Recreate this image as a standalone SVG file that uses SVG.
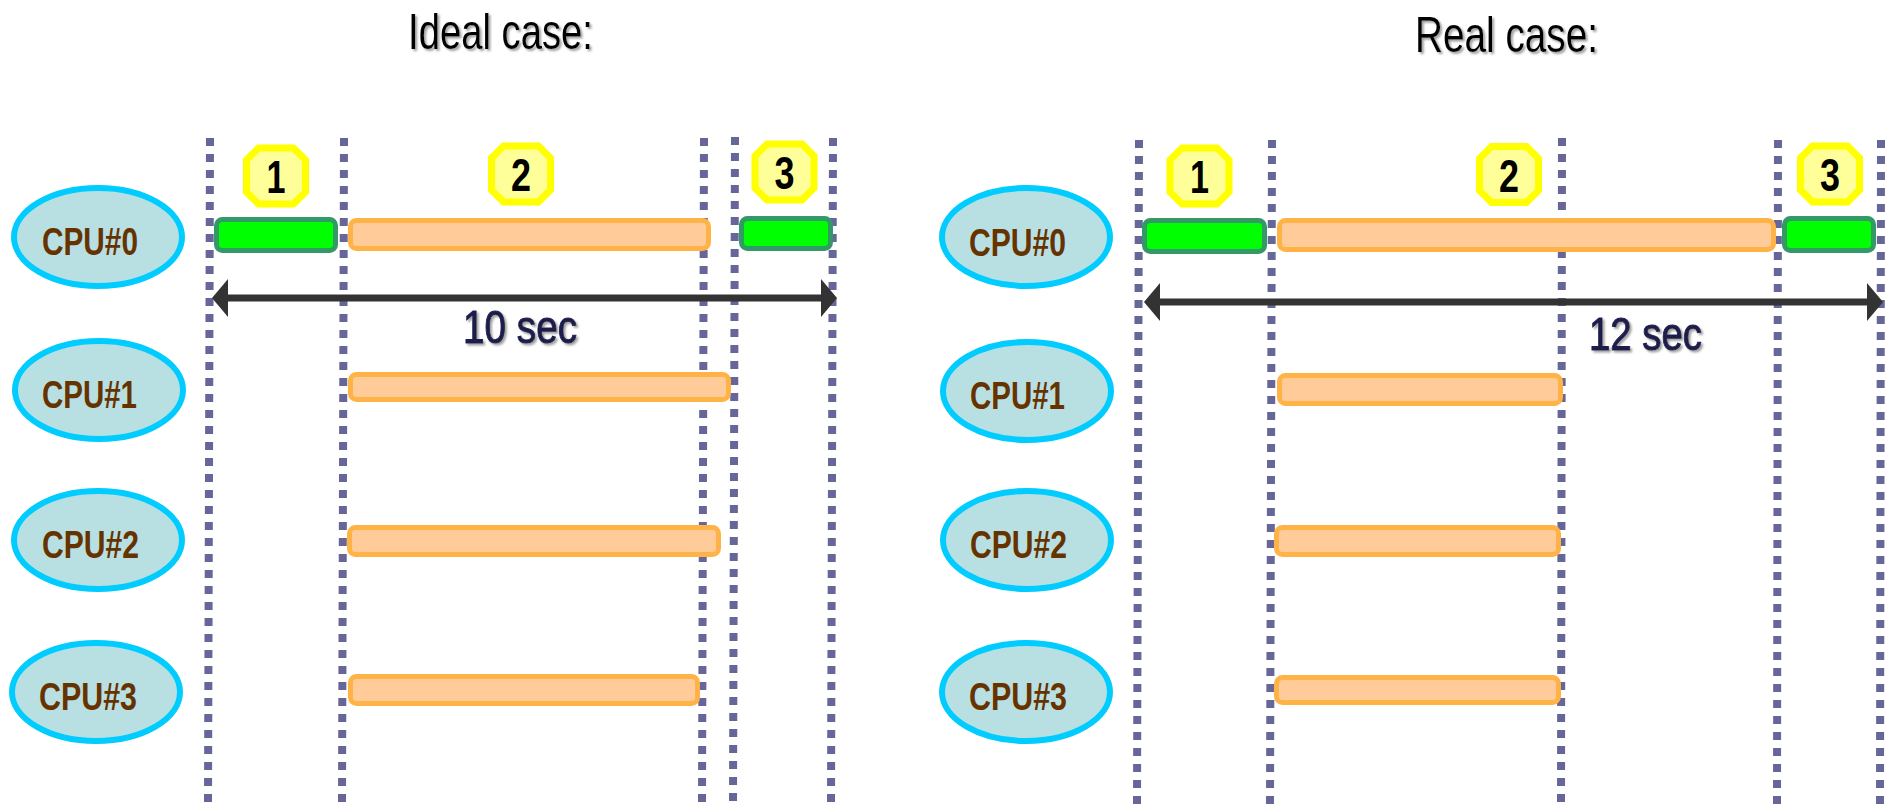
<svg xmlns="http://www.w3.org/2000/svg" width="1889" height="805" viewBox="0 0 1889 805">
<defs>
<style>
.title{font-family:"Liberation Sans",Arial,sans-serif;font-size:50px;fill:#000;filter:url(#sh)}
.dur{font-family:"Liberation Sans",Arial,sans-serif;font-size:46px;fill:#1f1f4d;stroke:#1f1f4d;stroke-width:1;filter:url(#sh)}
.cpu ellipse{fill:#b8e0e3;stroke:#00ccff;stroke-width:6}
.cpu text{font-family:"Liberation Sans",Arial,sans-serif;font-weight:bold;font-size:38px;fill:#663300}
.dot{stroke:#666699;stroke-width:8;stroke-dasharray:8 8;fill:none}
.g{fill:#00ff00;stroke:#339966;stroke-width:5}
.o{fill:#ffcc99;stroke:#ffb347;stroke-width:5}
.oct{fill:#ffff99;stroke:#ffff00;stroke-width:7}
.num{font-family:"Liberation Sans",Arial,sans-serif;font-weight:bold;font-size:46px;fill:#000;text-anchor:middle}
.arr{stroke:#333333;stroke-width:7}
.ah{fill:#333333}
</style>
<filter id="sh" x="-10%" y="-20%" width="120%" height="140%">
<feDropShadow dx="2" dy="2" stdDeviation="0.8" flood-color="#888888" flood-opacity="0.8"/>
</filter>
<path id="octp" d="M-17.5,-28 L17.5,-28 L29.5,-16 L29.5,16 L17.5,28 L-17.5,28 L-29.5,16 L-29.5,-16 Z"/>
</defs>

<g id="titles">
<text class="title" x="408" y="49" textLength="185" lengthAdjust="spacingAndGlyphs">Ideal case:</text>
<text class="title" x="1415" y="52" textLength="183" lengthAdjust="spacingAndGlyphs">Real case:</text>
</g>

<g id="gridlines">
<line class="dot" x1="210" y1="138" x2="208" y2="805"/>
<line class="dot" x1="344" y1="138" x2="342" y2="805"/>
<line class="dot" x1="704" y1="138" x2="702" y2="805"/>
<line class="dot" x1="735" y1="137" x2="733" y2="805"/>
<line class="dot" x1="833" y1="138" x2="831" y2="805"/>
<line class="dot" x1="1139" y1="140" x2="1137" y2="805"/>
<line class="dot" x1="1272" y1="140" x2="1270" y2="805"/>
<line class="dot" x1="1562" y1="138" x2="1561" y2="805"/>
<line class="dot" x1="1778" y1="140" x2="1777" y2="805"/>
<line class="dot" x1="1881" y1="140" x2="1880" y2="805"/>
</g>

<g id="cpu0-ideal" class="cpu"><ellipse cx="98" cy="237" rx="84" ry="49"/><text x="42" y="255" textLength="96" lengthAdjust="spacingAndGlyphs">CPU#0</text></g>
<g id="cpu1-ideal" class="cpu"><ellipse cx="99" cy="390" rx="84" ry="49"/><text x="42" y="408" textLength="95" lengthAdjust="spacingAndGlyphs">CPU#1</text></g>
<g id="cpu2-ideal" class="cpu"><ellipse cx="98" cy="540" rx="84" ry="49"/><text x="42" y="558" textLength="97" lengthAdjust="spacingAndGlyphs">CPU#2</text></g>
<g id="cpu3-ideal" class="cpu"><ellipse cx="96" cy="692" rx="84" ry="49"/><text x="39" y="710" textLength="98" lengthAdjust="spacingAndGlyphs">CPU#3</text></g>

<g id="cpu0-real" class="cpu"><ellipse cx="1026" cy="237" rx="84" ry="49"/><text x="969" y="256" textLength="97" lengthAdjust="spacingAndGlyphs">CPU#0</text></g>
<g id="cpu1-real" class="cpu"><ellipse cx="1027" cy="391" rx="84" ry="49"/><text x="970" y="409" textLength="95" lengthAdjust="spacingAndGlyphs">CPU#1</text></g>
<g id="cpu2-real" class="cpu"><ellipse cx="1027" cy="540" rx="84" ry="49"/><text x="970" y="558" textLength="97" lengthAdjust="spacingAndGlyphs">CPU#2</text></g>
<g id="cpu3-real" class="cpu"><ellipse cx="1026" cy="692" rx="84" ry="49"/><text x="969" y="710" textLength="98" lengthAdjust="spacingAndGlyphs">CPU#3</text></g>

<g id="phases-ideal">
<g id="ideal-phase1"><use href="#octp" class="oct" transform="translate(276,176)"/><text class="num" x="276" y="193" textLength="19" lengthAdjust="spacingAndGlyphs">1</text></g>
<g id="ideal-phase2"><use href="#octp" class="oct" transform="translate(521,174)"/><text class="num" x="521" y="191" textLength="20" lengthAdjust="spacingAndGlyphs">2</text></g>
<g id="ideal-phase3"><use href="#octp" class="oct" transform="translate(784.5,172)"/><text class="num" x="784.5" y="189" textLength="20" lengthAdjust="spacingAndGlyphs">3</text></g>
</g>
<g id="phases-real">
<g id="real-phase1"><use href="#octp" class="oct" transform="translate(1199.5,176)"/><text class="num" x="1199.5" y="193" textLength="19" lengthAdjust="spacingAndGlyphs">1</text></g>
<g id="real-phase2"><use href="#octp" class="oct" transform="translate(1509,174.5)"/><text class="num" x="1509" y="191.5" textLength="20" lengthAdjust="spacingAndGlyphs">2</text></g>
<g id="real-phase3"><use href="#octp" class="oct" transform="translate(1830,174)"/><text class="num" x="1830" y="191" textLength="20" lengthAdjust="spacingAndGlyphs">3</text></g>
</g>

<g id="tasks-ideal">
<rect class="g" x="216.5" y="219.5" width="119" height="31" rx="6"/>
<rect class="o" x="350.5" y="220.5" width="358" height="28" rx="6"/>
<rect class="g" x="741.5" y="218.5" width="89" height="30" rx="6"/>
<rect class="o" x="350.5" y="374.5" width="378" height="25" rx="6"/>
<rect class="o" x="349.5" y="527.5" width="369" height="27" rx="6"/>
<rect class="o" x="350.5" y="676.5" width="347" height="27" rx="6"/>
</g>
<g id="tasks-real">
<rect class="g" x="1144.5" y="220.5" width="120" height="31" rx="6"/>
<rect class="o" x="1279.5" y="220.5" width="494" height="29" rx="6"/>
<rect class="g" x="1784.5" y="218.5" width="89" height="32" rx="6"/>
<rect class="o" x="1279.5" y="375.5" width="281" height="28" rx="6"/>
<rect class="o" x="1276.5" y="527.5" width="282" height="27" rx="6"/>
<rect class="o" x="1276.5" y="677.5" width="282" height="25" rx="6"/>
</g>

<g id="connectors">
<line class="arr" x1="226" y1="298" x2="823" y2="298"/>
<polygon class="ah" points="212,298 228,279 228,317"/>
<polygon class="ah" points="837,298 821,279 821,317"/>
<line class="arr" x1="1158" y1="302" x2="1869" y2="302"/>
<polygon class="ah" points="1144,302 1160,283 1160,321"/>
<polygon class="ah" points="1883,302 1867,283 1867,321"/>
</g>

<g id="durations">
<text class="dur" x="463" y="343" textLength="114" lengthAdjust="spacingAndGlyphs">10 sec</text>
<text class="dur" x="1589" y="350" textLength="113" lengthAdjust="spacingAndGlyphs">12 sec</text>
</g>
</svg>
